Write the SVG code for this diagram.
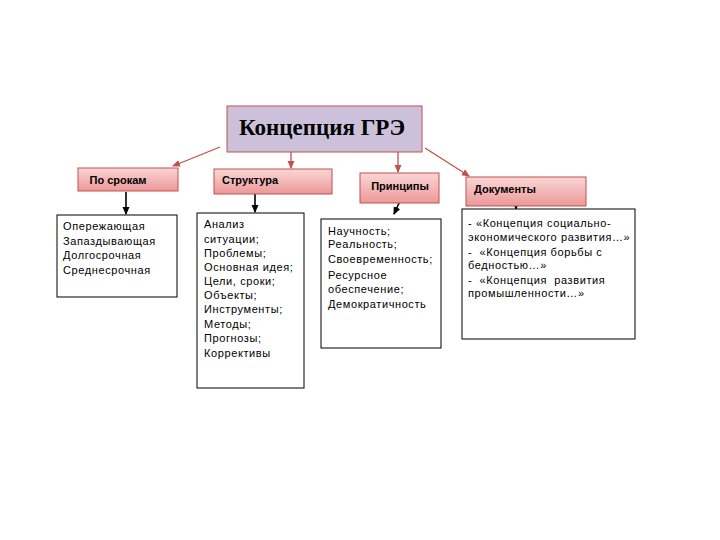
<svg xmlns="http://www.w3.org/2000/svg" width="720" height="540" viewBox="0 0 720 540">
<defs>
<linearGradient id="pink" x1="0" y1="0" x2="0" y2="1">
<stop offset="0" stop-color="#FBD6D6"/>
<stop offset="1" stop-color="#EC9898"/>
</linearGradient>
<marker id="ar" markerWidth="8" markerHeight="8" refX="7" refY="4" orient="auto" markerUnits="userSpaceOnUse">
<path d="M0,0.5 L8,4 L0,7.5 Z" fill="#C0504D"/>
</marker>
<marker id="ab" markerWidth="8" markerHeight="8" refX="7" refY="4" orient="auto" markerUnits="userSpaceOnUse">
<path d="M0,0.5 L8,4 L0,7.5 Z" fill="#000"/>
</marker>
<style>
.cat{fill:url(#pink);stroke:#C0504D;stroke-width:1}
.lst{fill:#fff;stroke:#000;stroke-width:1}
.h{font-family:"Liberation Sans",Arial,sans-serif;font-size:11px;font-weight:bold;fill:#000}
.t{font-family:"Liberation Sans",Arial,sans-serif;font-size:11px;fill:#000;letter-spacing:0.6px}
.red{stroke:#C0504D;stroke-width:1.3;fill:none;marker-end:url(#ar)}
.blk{stroke:#000;stroke-width:1.6;fill:none;marker-end:url(#ab)}
</style>
</defs>
<rect width="720" height="540" fill="#fff"/>
<g id="connectors">
<line class="red" x1="220" y1="147" x2="173" y2="166"/>
<line class="red" x1="291" y1="152" x2="291" y2="168"/>
<line class="red" x1="398" y1="152" x2="398" y2="172"/>
<line class="red" x1="425" y1="148" x2="469" y2="176"/>
<line class="blk" x1="126" y1="192" x2="126" y2="214"/>
<line class="blk" x1="255" y1="194" x2="255" y2="212"/>
<line class="blk" x1="400" y1="201" x2="394" y2="214"/>
<line class="blk" x1="516" y1="202" x2="516" y2="209"/>
</g>
<g id="root">
<rect x="227" y="106" width="195" height="46" fill="#CCC0DA" stroke="#C0504D" stroke-width="1"/>
<text x="322" y="135" text-anchor="middle" font-family="'Liberation Serif','Times New Roman',serif" font-size="23" font-weight="bold">Концепция ГРЭ</text>
</g>
<g id="po-srokam">
<rect class="cat" x="78" y="168" width="100" height="23"/>
<text class="h" x="118" y="184" text-anchor="middle">По срокам</text>
</g>
<g id="struktura">
<rect class="cat" x="214" y="169" width="118" height="25"/>
<text class="h" x="222" y="184">Структура</text>
</g>
<g id="printsipy">
<rect class="cat" x="360" y="173" width="79" height="30"/>
<text class="h" x="400" y="190" text-anchor="middle">Принципы</text>
</g>
<g id="dokumenty">
<rect class="cat" x="466" y="177" width="120" height="29"/>
<text class="h" x="474" y="193">Документы</text>
</g>
<g id="list-sroki">
<rect class="lst" x="57" y="215" width="120" height="82"/>
<text class="t" x="63" y="230">Опережающая</text>
<text class="t" x="63" y="245">Запаздывающая</text>
<text class="t" x="63" y="259">Долгосрочная</text>
<text class="t" x="63" y="274">Среднесрочная</text>
</g>
<g id="list-struktura">
<rect class="lst" x="197" y="213" width="107" height="175"/>
<text class="t" x="204" y="228">Анализ</text>
<text class="t" x="204" y="243">ситуации;</text>
<text class="t" x="204" y="257">Проблемы;</text>
<text class="t" x="204" y="271">Основная идея;</text>
<text class="t" x="204" y="285">Цели, сроки;</text>
<text class="t" x="204" y="299">Объекты;</text>
<text class="t" x="204" y="313">Инструменты;</text>
<text class="t" x="204" y="328">Методы;</text>
<text class="t" x="204" y="342">Прогнозы;</text>
<text class="t" x="204" y="357">Коррективы</text>
</g>
<g id="list-printsipy">
<rect class="lst" x="321" y="219" width="120" height="129"/>
<text class="t" x="328" y="235">Научность;</text>
<text class="t" x="328" y="248">Реальность;</text>
<text class="t" x="328" y="263">Своевременность;</text>
<text class="t" x="328" y="279">Ресурсное</text>
<text class="t" x="328" y="293">обеспечение;</text>
<text class="t" x="328" y="308">Демократичность</text>
</g>
<g id="list-dokumenty">
<rect class="lst" x="462" y="209" width="173" height="130"/>
<text class="t" x="468" y="227">- «Концепция социально-</text>
<text class="t" x="468" y="241">экономического развития…»</text>
<text class="t" x="468" y="256" xml:space="preserve">-  «Концепция борьбы с</text>
<text class="t" x="468" y="269">бедностью…»</text>
<text class="t" x="468" y="284" xml:space="preserve">-  «Концепция  развития</text>
<text class="t" x="468" y="297">промышленности…»</text>
</g>
</svg>
